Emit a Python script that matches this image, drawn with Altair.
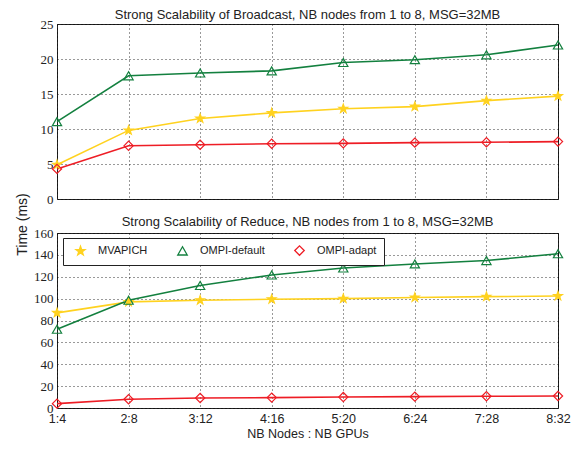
import altair as alt
import pandas as pd

categories = ["1:4", "2:8", "3:12", "4:16", "5:20", "6:24", "7:28", "8:32"]
series = ["MVAPICH", "OMPI-default", "OMPI-adapt"]

bcast_mvapich = [4.9, 9.8, 11.5, 12.3, 12.9, 13.2, 14.05, 14.7]
bcast_default = [11.05, 17.6, 18.0, 18.3, 19.5, 19.9, 20.6, 22.0]
bcast_adapt = [4.3, 7.6, 7.75, 7.9, 7.95, 8.05, 8.1, 8.2]

reduce_mvapich = [87, 97, 98.5, 99.4, 100, 101, 101.8, 102.4]
reduce_default = [72, 98.5, 112, 121.6, 128, 131.7, 134.8, 141]
reduce_adapt = [4, 8, 9.1, 9.5, 10, 10.4, 10.7, 11]

colors = ["#FFD21F", "#13803F", "#EE1D25"]
fills = ["#FFD21F", "transparent", "transparent"]
star = ("M0,-1L0.235,-0.324L0.951,-0.309L0.38,0.124L0.588,0.809L0,0.4"
        "L-0.588,0.809L-0.38,0.124L-0.951,-0.309L-0.235,-0.324Z")
shapes = [star, "triangle-up", "diamond"]


def frame(vals):
    rows = []
    for s, v in zip(series, vals):
        for c, y in zip(categories, v):
            rows.append({"cfg": c, "series": s, "time": y})
    return pd.DataFrame(rows)


bcast = frame([bcast_mvapich, bcast_default, bcast_adapt])
reduce_ = frame([reduce_mvapich, reduce_default, reduce_adapt])

FONT = "Liberation Sans"
SERIF = "Liberation Serif"


def panel(df, title, ymax, step, bottom):
    xaxis = alt.Axis(
        labels=bottom, ticks=False, domain=False, grid=True,
        title="NB Nodes : NB GPUs" if bottom else None,
        labelAngle=0, labelFont=FONT, labelFontSize=12.5, labelPadding=4,
        titleFont=FONT, titleFontSize=12.5, titleFontWeight="normal", titlePadding=3,
        labelColor="#222", titleColor="#222",
    )
    yaxis = alt.Axis(
        values=list(range(0, ymax + 1, step)), ticks=False, domain=False, grid=True,
        title=None,
        labelFont=SERIF, labelFontSize=13, labelPadding=4, labelColor="#222",
        labelExpr="datum.label" if bottom else "'\u2007' + datum.label",
    )
    x = alt.X("cfg:N", sort=categories, scale=alt.Scale(type="point", padding=0), axis=xaxis)
    y = alt.Y("time:Q", scale=alt.Scale(domain=[0, ymax], nice=False), axis=yaxis)
    if bottom:
        leg = alt.Legend(
            title=None, orient="none", legendX=6, legendY=5, direction="horizontal",
            fillColor="white", strokeColor="#222", padding=7,
            symbolOffset=5, labelOffset=12, columnPadding=24,
            labelFont=FONT, labelFontSize=11, labelColor="#222",
            symbolSize=90, symbolStrokeWidth=1.3,
        )
    else:
        leg = None
    line = alt.Chart(df).mark_line(strokeWidth=1.6).encode(
        x=x, y=y,
        color=alt.Color("series:N", sort=series,
                        scale=alt.Scale(domain=series, range=colors), legend=leg),
    )
    pts = alt.Chart(df).mark_point(size=85, strokeWidth=1.2, opacity=1).encode(
        x=x, y=y,
        stroke=alt.Stroke("series:N", sort=series,
                          scale=alt.Scale(domain=series, range=colors), legend=leg),
        fill=alt.Fill("series:N", sort=series,
                      scale=alt.Scale(domain=series, range=fills), legend=leg),
        shape=alt.Shape("series:N", sort=series,
                        scale=alt.Scale(domain=series, range=shapes), legend=leg),
    )
    return alt.layer(line, pts).properties(
        width=501, height=175,
        title=alt.TitleParams(title, font=FONT, fontSize=13, fontWeight="normal",
                              color="#222", offset=-2 if bottom else -4),
    )


top = panel(bcast, "Strong Scalability of Broadcast, NB nodes from 1 to 8, MSG=32MB", 25, 5, False)
bot = panel(reduce_, "Strong Scalability of Reduce, NB nodes from 1 to 8, MSG=32MB", 160, 20, True)

chart = alt.vconcat(top, bot, spacing=8).resolve_scale(
    color="independent", stroke="independent", fill="independent", shape="independent"
).properties(
    title=alt.TitleParams("Time (ms)", orient="left", anchor="middle", font=FONT,
                          fontSize=14, fontWeight="normal", color="#222", offset=3),
    padding={"left": 8, "top": 0, "right": 5, "bottom": 0}, background="white",
).configure_view(stroke="#222", strokeWidth=1).configure_axis(
    gridColor="#000", gridDash=[1, 3], gridOpacity=0.8, gridWidth=1
)

chart.save("out.html", embed_options={"renderer": "svg", "actions": False})
